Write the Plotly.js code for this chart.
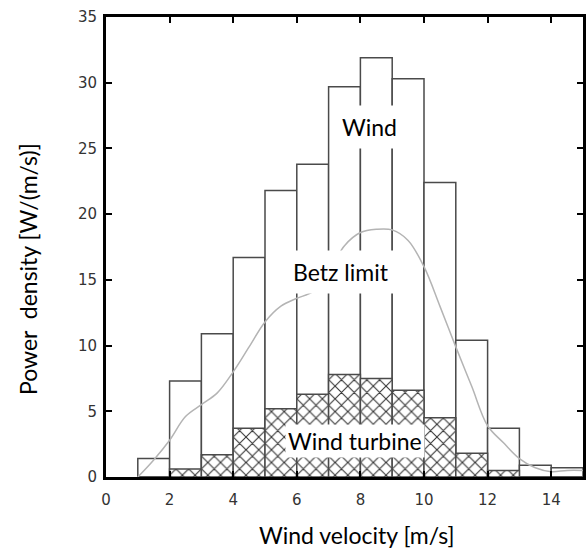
<!DOCTYPE html>
<html>
<head>
<meta charset="utf-8">
<script src="https://cdn.plot.ly/plotly-3.0.1.min.js"></script>
<style>html,body{margin:0;padding:0;background:#fff;}#chart{width:587px;height:550px;}</style>
</head>
<body>
<div id="chart"></div>
<script>
// Bin centres (bins are 1 m/s wide, from 1 to 15 m/s)
const binCenters = [1.5, 2.5, 3.5, 4.5, 5.5, 6.5, 7.5, 8.5, 9.5, 10.5, 11.5, 12.5, 13.5, 14.5];
const windPower = [1.4, 7.3, 10.9, 16.7, 21.8, 23.8, 29.7, 31.9, 30.3, 22.4, 10.4, 3.7, 0.9, 0.7];
const turbinePower = [0, 0.6, 1.7, 3.7, 5.2, 6.3, 7.8, 7.5, 6.6, 4.5, 1.8, 0.5, 0, 0];

// Betz limit curve
const betzX = [1.0, 1.5, 2.0, 2.5, 3.0, 3.5, 4.0, 4.5, 5.0, 5.5, 6.0, 6.5, 7.0, 7.5, 8.0, 8.5, 9.0, 9.5, 10.0, 10.5, 11.0, 11.5, 12.0, 12.5, 13.0, 13.5, 14.0, 14.5, 15.0];
const betzY = [0.0, 1.3, 2.8, 4.6, 5.5, 6.4, 8.0, 9.9, 11.8, 13.0, 13.6, 14.1, 15.6, 17.6, 18.6, 18.85, 18.8, 18.0, 16.0, 13.0, 9.9, 6.9, 3.9, 2.6, 1.4, 0.7, 0.4, 0.5, 0.5];

const xTicks = [0, 2, 4, 6, 8, 10, 12, 14];
const yTicks = [0, 5, 10, 15, 20, 25, 30, 35];

const traces = [
  {
    type: 'bar', x: binCenters, y: windPower, width: 1,
    marker: {color: '#ffffff', line: {color: '#4a4a4a', width: 1.5}},
    hoverinfo: 'skip', showlegend: false
  },
  {
    type: 'scatter', mode: 'lines', x: betzX, y: betzY,
    line: {color: '#b4b4b4', width: 1.5, shape: 'spline', smoothing: 1},
    hoverinfo: 'skip', showlegend: false
  },
  {
    type: 'bar', x: binCenters, y: turbinePower, width: 1,
    marker: {color: '#ffffff', line: {color: '#4a4a4a', width: 1.5},
      pattern: {shape: 'x', fgcolor: '#333333', bgcolor: '#ffffff', size: 9, solidity: 0.22}},
    hoverinfo: 'skip', showlegend: false
  }
];

const tickFont = {family: 'DejaVu Sans', size: 15, color: '#333333'};
const labelFont = {family: 'Lato, Noto Sans, sans-serif', size: 23, color: '#000000'};

const layout = {
  width: 587, height: 550,
  margin: {l: 106, r: 4, t: 17, b: 73},
  paper_bgcolor: '#ffffff', plot_bgcolor: '#ffffff',
  barmode: 'overlay', bargap: 0,
  xaxis: {
    range: [0, 15], tickvals: xTicks, ticktext: xTicks.map(String),
    ticks: 'inside', ticklen: 6, tickwidth: 2, tickcolor: '#000',
    showline: true, linecolor: '#000', linewidth: 3, mirror: 'ticks',
    showgrid: false, zeroline: false, tickfont: tickFont, ticklabelstandoff: 7
  },
  yaxis: {
    range: [0, 35], tickvals: yTicks, ticktext: yTicks.map(String),
    ticks: 'inside', ticklen: 6, tickwidth: 2, tickcolor: '#000',
    showline: true, linecolor: '#000', linewidth: 3, mirror: 'ticks',
    showgrid: false, zeroline: false, tickfont: tickFont, ticklabelstandoff: 3
  },
  annotations: [
    {x: 8.3, y: 26.6, xref: 'x', yref: 'y', text: 'Wind', showarrow: false,
     font: labelFont, bgcolor: '#ffffff', borderpad: 7},
    {x: 7.4, y: 15.6, xref: 'x', yref: 'y', text: 'Betz limit', showarrow: false,
     font: labelFont, bgcolor: '#ffffff', borderpad: 7},
    {x: 7.83, y: 2.77, xref: 'x', yref: 'y', text: 'Wind turbine', showarrow: false,
     font: labelFont, bgcolor: '#ffffff', borderpad: 2},
    {text: 'Wind velocity [m/s]', showarrow: false,
     font: labelFont, xanchor: 'center', yanchor: 'middle'},
    {text: 'Power  density [W/(m/s)]', showarrow: false,
     font: labelFont, textangle: -90, xanchor: 'center', yanchor: 'middle'}
  ]
};

// place axis titles in paper coords (pixel positions converted)
const pw = 587 - 106 - 4, ph = 550 - 17 - 73;
Object.assign(layout.annotations[3], {xref: 'paper', yref: 'paper', x: (357 - 106) / pw, y: (550 - 73 - 535) / ph});
Object.assign(layout.annotations[4], {xref: 'paper', yref: 'paper', x: (28 - 106) / pw, y: (550 - 73 - 269) / ph});

Plotly.newPlot('chart', traces, layout, {displayModeBar: false, staticPlot: true});
</script>
</body>
</html>
